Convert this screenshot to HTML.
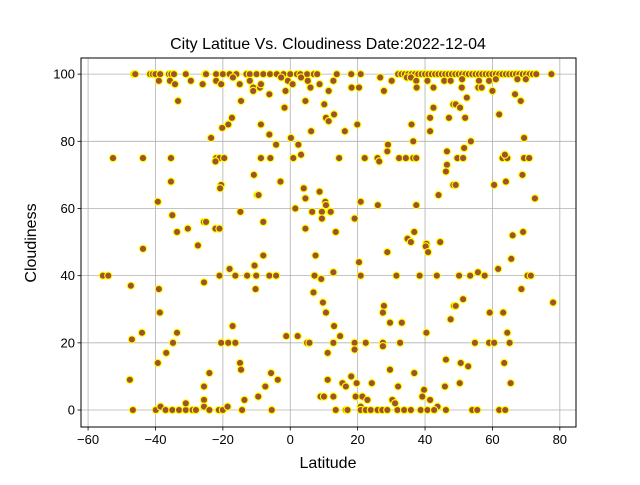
<!DOCTYPE html>
<html><head><meta charset="utf-8"><style>
body{margin:0;background:#fff;}
svg text{font-family:"Liberation Sans",sans-serif;fill:#000;}
</style></head><body>
<svg id="chart" width="640" height="480" xmlns="http://www.w3.org/2000/svg">
<rect width="640" height="480" fill="#fff"/>
<text x="328" y="49" font-size="16" text-anchor="middle">City Latitue Vs. Cloudiness Date:2022-12-04</text>
<g id="grid"></g>
<g id="points"></g>
<rect x="81" y="58" width="495" height="369" fill="none" stroke="#000" stroke-width="1"/>
<g id="ticks"></g>
<text x="328" y="468" font-size="16" text-anchor="middle">Latitude</text>
<text x="36" y="243" font-size="16" text-anchor="middle" transform="rotate(-90 36 243)">Cloudiness</text>
</svg>
<script>
const xTicks=[-60,-40,-20,0,20,40,60,80];
const yTicks=[0,20,40,60,80,100];
const lat=[
-46.4,-46,-41.6,-40.8,-40,-38.6,-36,-35.3,-34.5,-31,-25.3,-39,-35.7,-34.2,-29.5,-26,-33.3,
-52.6,-43.7,-35.4,-35.4,-39.3,-35,-33.6,-30.4,-25.6,
-43.7,-27.4,-55.6,-54,-47.3,-39,-38.7,-25.6,-44,-47,-33.6,-34.8,-36.8,-39.3,-47.6,-25.6,-25.6,-25.6,-46.7,-39.9,-38.5,-37,-35,-33,-31,-29,-28,-31,-25.6,
-25,-22,-20,-18,-16,-13,-12,-10,-8,-6,-4,-2,0,2,3,5,7,8,
-22,-20.5,-17,-15,-12,-11,-11,-9,-8.7,-6.2,-2.7,-0.7,0.7,-1.4,3.2,5.2,6,8.7,11.4,-14.6,-1.7,4.5,10.1,10.6,11.4,-17.3,-18.4,-20.2,-23.5,-8.7,-6.2,0.2,6.2,-4.2,2.4,3.2,0.9,-22,-21,-19.6,-22.2,-8.7,-5.9,-10.8,-2.9,-20.5,-20.8,-9.8,-9.4,4,4.5,8.7,10.4,10.6,1.5,6.5,9.4,9.4,11.8,-14.8,-8,-25,-22.2,-21,4.5,
-8,-10.6,-18,-21,-16.3,-12.8,-10.1,-6.2,-4.2,-10.3,7.5,7.2,9.2,6.9,9.7,10.6,-17.1,-1.2,2.2,5,5.7,-20.5,-18.4,-16.3,11.1,-14.9,-14.6,-24,-5.7,-3.7,-7.4,-9.5,-13.6,9,10,11.1,-24,-21.2,-20,-18.6,-14.3,-5.5,
13.8,18.1,20.9,32,33,34,35,36,37,38,39,40,41,42,43,44,45,46,47,48,49,
12.8,26.7,30.1,27.8,18.2,20.4,34.6,35.8,37.4,40.7,45.7,47.6,37.5,42.5,13,42.5,41.5,47.1,48.4,36,41.5,19.9,16.2,29,28.8,36.5,14.5,22.1,25.9,26.4,32.3,34.3,36.5,37.4,46.5,46.5,46.2,48.4,44,20.9,26,37.4,12,19.1,13.5,36.8,34.8,35.8,40.4,44.5,
28.8,20.4,12.8,20.9,31.5,38.4,43.5,35.8,40.2,40.9,44.5,27.8,27.5,29.6,33.1,13,14.8,12.8,19.1,22.4,27.5,32.6,19.1,27.5,40.4,48.6,47.6,46.2,29.6,36.8,18.1,15.5,16.5,19.7,24.2,32,39.7,12.8,19.4,21.4,22.9,30.3,31.1,39.2,41.5,45.9,20.9,43.7,
13.5,16.5,17,20.9,22.4,23.9,25.9,27.3,28.8,31.8,33.8,35.8,38.7,40.7,42.7,46.2,
50,51,52,53,54,55,56,57,58,59,60,61,62,63,64,65,66,67,68,69,70,71,72,73,77.5,
51,56,59,61,67.4,69.9,50.9,55.8,56.8,60,52.4,66.7,68.4,49.1,50.4,51.9,62,69.4,53.6,51.6,49.6,51.3,63,64.4,63.7,69.4,70.9,68.9,49.1,60.5,64,72.6,66,69.1,
65.6,61.7,50.1,53.4,55.7,57.7,70.4,71.4,68.6,78,49.1,51.3,59.2,63.2,64.4,54.8,59,60.5,65.1,50.6,52.8,63.5,50.3,65.4,54,55.5,62,63.8
];
const cloud=[
100,100,100,100,100,100,100,100,100,100,100,98,98,97,98,97,92,
75,75,75,68,62,58,53,54,56,
48,49,40,40,37,36,29,38,23,21,23,20,17,14,9,7,3,1,0,0,1,0,0,0,0,0,0,2,1,
100,100,100,100,100,100,100,100,100,100,100,100,100,100,100,100,100,100,
98,97,99,97,98,96,95,96,97,94,99,98,97,95,99,98,96,97,95,92,90,92,91,87,86,87,85,84,81,85,82,81,83,79,79,76,75,75,75,75,74,75,75,70,68,67,66,64,64,66,63,65,62,61,60,59,59,57,59,59,56,56,54,54,54,
46,43,42,40,40,40,40,40,40,36,46,40,39,35,32,29,25,22,22,20,20,20,20,20,17,14,12,11,11,9,7,4,3,4,4,9,0,0,0,1,0,0,
100,100,100,100,100,100,100,100,100,100,100,100,100,100,100,100,100,100,100,100,100,
98,99,98,95,96,96,99,99,98,98,98,98,96,96,88,90,87,87,91,85,83,85,83,79,77,80,75,75,75,74,75,75,75,75,77,73,71,67,64,62,61,61,59,57,53,53,51,50,49.5,50,
47,44,41,40,40,40,40,50,48.7,47,50,31,29,26,26,25,22,20,20,20,20,20,18,19,23,31,27,15,12,11,10,8,7,8,8,7,6,4,4,4,3,3,2,4,3,7,1,1,
0,0,0,0,0,0,0,0,0,0,0,0,0,0,0,0,
100,100,100,100,100,100,100,100,100,100,100,100,100,100,100,100,100,100,100,100,100,100,100,100,100,
98.5,98,98,98.5,98.5,98.5,96,96,96,95,93,94,92,91,90,87,88,81,80,78,75,75,75,75,76,75,75,70,67,67,68,63,52,53,
45,42,40,40,41,40,40,40,36,32,31,33,29,29,23,20,20,20,20,14,13,14,8,8,0,0,0,0
];
const X0=-62.1,X1=84.8,Y0=-5.06,Y1=104.8;
const PL=81,PR=576,PT=58,PB=427;
function sx(v){return PL+(v-X0)/(X1-X0)*(PR-PL);}
function sy(v){return PB-(v-Y0)/(Y1-Y0)*(PB-PT);}
const NS='http://www.w3.org/2000/svg';
const grid=document.getElementById('grid'),ticks=document.getElementById('ticks'),pts=document.getElementById('points');
function mk(tag,attrs,parent){const e=document.createElementNS(NS,tag);for(const k in attrs)e.setAttribute(k,attrs[k]);parent.appendChild(e);return e;}
xTicks.forEach(t=>{const x=sx(t);
 const g=mk('line',{x1:x,x2:x,y1:PT,y2:PB,stroke:'#b0b0b0','stroke-width':0.8},grid);
 
 
 const tk=mk('line',{x1:x,x2:x,y1:PB,y2:PB+3.5,stroke:'#000','stroke-width':0.8},ticks);
 
 
 const tx=mk('text',{x:x,y:PB+17,'font-size':13,'text-anchor':'middle'},ticks);
 tx.textContent=t<0?'\u2212'+(-t):String(t);
 
 
});
yTicks.forEach(t=>{const y=sy(t);
 const g=mk('line',{x1:PL,x2:PR,y1:y,y2:y,stroke:'#b0b0b0','stroke-width':0.8},grid);
 
 
 const tk=mk('line',{x1:PL-3.5,x2:PL,y1:y,y2:y,stroke:'#000','stroke-width':0.8},ticks);
 
 
 const tx=mk('text',{x:PL-6,y:y+4.5,'font-size':13,'text-anchor':'end'},ticks);
 tx.textContent=String(t);
 
 
});
const n=Math.min(lat.length,cloud.length);
for(let i=0;i<n;i++){
 const c=mk('circle',{cx:sx(lat[i]),cy:sy(cloud[i]),r:3.6,fill:'#a0522d',stroke:'#ffff00','stroke-width':1.1},pts);
 
 
}
</script>
</body></html>
